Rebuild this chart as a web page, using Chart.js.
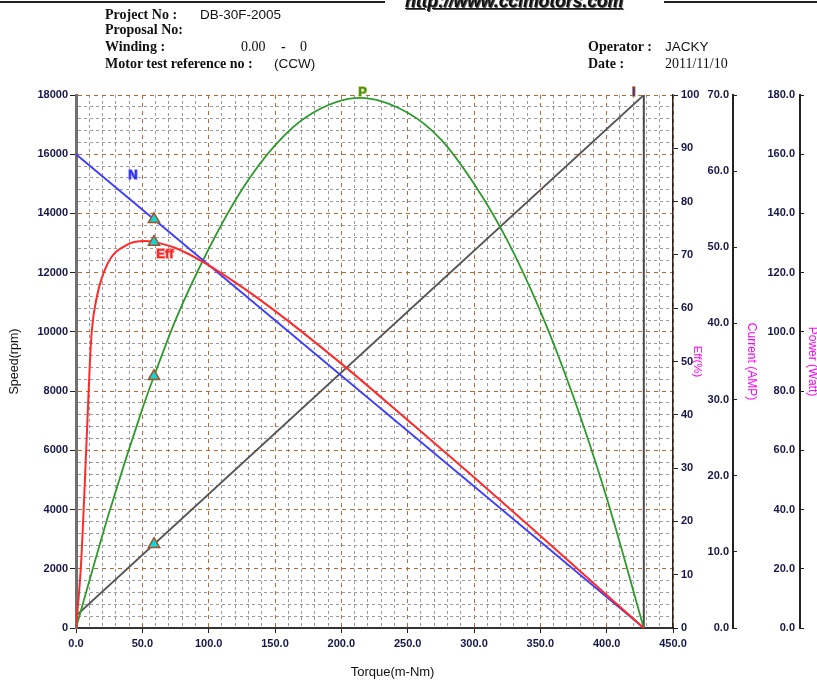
<!DOCTYPE html>
<html>
<head>
<meta charset="utf-8">
<script src="https://cdn.jsdelivr.net/npm/chart.js@4.4.1/dist/chart.umd.min.js"></script>
<style>
  body { margin: 0; background: #fff; }
  #wrap { position: relative; width: 817px; height: 683px; overflow: hidden; }
  #chart { position: absolute; left: 0; top: 0; }
  .hd { position: absolute; font: bold 14px "Liberation Serif", "Times New Roman", serif; color: #111; white-space: nowrap; }
  .sv { font-family: "Liberation Sans", Arial, sans-serif; font-weight: normal; font-size: 13.5px; }
  .rule { position: absolute; top: 1px; height: 2px; background: #222; }
  #url { position: absolute; left: 405px; top: -9px; font: italic bold 17.5px "Liberation Sans", Arial, sans-serif;
         color: #111; text-decoration: underline; text-shadow: 1px 1px 0 #555; }
</style>
</head>
<body>
<div id="wrap">
  <canvas id="chart" width="817" height="683"></canvas>
  <div class="rule" style="left:0;width:385px"></div>
  <div class="rule" style="left:664px;width:153px"></div>
  <div id="url">http://www.ccimotors.com</div>
  <div class="hd" style="left:105px;top:7px">Project No :</div>
  <div class="hd sv" style="left:200px;top:7px">DB-30F-2005</div>
  <div class="hd" style="left:105px;top:22px">Proposal No:</div>
  <div class="hd" style="left:105px;top:39px">Winding :</div>
  <div class="hd" style="left:241px;top:39px;font-weight:normal">0.00</div>
  <div class="hd" style="left:281px;top:39px">-</div>
  <div class="hd" style="left:300px;top:39px;font-weight:normal">0</div>
  <div class="hd" style="left:105px;top:56px">Motor test reference no :</div>
  <div class="hd sv" style="left:274px;top:56px">(CCW)</div>
  <div class="hd" style="left:588px;top:39px">Operator :</div>
  <div class="hd sv" style="left:665px;top:39px">JACKY</div>
  <div class="hd" style="left:588px;top:56px">Date :</div>
  <div class="hd" style="left:665px;top:56px;font-weight:normal">2011/11/10</div>
</div>
<script>
// values
const speedTorque = [0, 428];
const speedRpm = [16000, 0];
const currentTorque = [0, 428];
const currentAmp = [1.6, 70];
const effTorque = [0, 3.8, 8.3, 10.5, 12, 15.6, 23.9, 37.7, 52, 58.8, 75, 95.7, 125, 150, 200, 250, 300, 350, 400, 428];
const effPct = [0, 12, 37, 50, 56, 62, 68.4, 71.8, 72.6, 72.4, 71.3, 68.7, 64, 59.5, 49.6, 39, 28.3, 17.3, 6.2, 0];
const powerTorque = [0, 25, 50, 58.8, 75, 100, 125, 150, 175, 214, 250, 275, 300, 325, 350, 375, 400, 428];
const powerWatt = [0, 39, 74, 85, 104, 128, 148, 163, 173, 179, 174, 165, 150, 131, 107, 78, 44, 0];
const stallTorque = [428, 428];
const stallRpm = [0, 18000];
const markTorque = [58.8];
const markSpeed = [13800];
const markEff = [72.4];
const markPower = [85];
const markCurrent = [11];

const pts = (xs, ys) => xs.map((x, i) => ({ x, y: ys[i] }));

const tickFont = { family: 'Liberation Sans, Arial, sans-serif', size: 11, weight: 'bold' };
const titleFont = size => ({ family: 'Liberation Sans, Arial, sans-serif', size });
const tickColor = '#16164a';
const major = '#c8642d', minor = '#9a9a9a';

const markerStyle = {
  showLine: false, pointStyle: 'triangle', pointRadius: 6.5,
  pointBackgroundColor: '#12d6d6', pointBorderColor: '#a4522a', pointBorderWidth: 1.5
};

const curveLabels = [
  { text: 'N', x: 43, y: 15280, color: '#2a2aff', stroke: '#8a8aff' },
  { text: 'Eff', x: 67, y: 12630, color: '#ff2020', stroke: '#ff9090' },
  { text: 'P', x: 216, y: 18080, color: '#2a9a2a', stroke: '#e0c040' },
  { text: 'I', x: 420.5, y: 18080, color: '#2a3aa0', stroke: '#e08030' }
];

const labelPlugin = {
  id: 'curveLabels',
  afterDatasetsDraw(chart) {
    const { ctx, scales: { x, y } } = chart;
    ctx.save();
    ctx.font = 'bold 13px "Liberation Sans", Arial, sans-serif';
    ctx.textAlign = 'center';
    ctx.textBaseline = 'middle';
    curveLabels.forEach(l => {
      const px = x.getPixelForValue(l.x), py = y.getPixelForValue(l.y);
      ctx.lineWidth = 1.5;
      ctx.strokeStyle = l.stroke;
      ctx.strokeText(l.text, px, py);
      ctx.fillStyle = l.color;
      ctx.fillText(l.text, px, py);
    });
    ctx.restore();
  }
};

const isMajor = (c, step) => c.tick && Math.round(c.tick.value) % step === 0;

new Chart(document.getElementById('chart'), {
  type: 'line',
  data: {
    datasets: [
      { ...markerStyle, data: pts(markTorque, markSpeed), yAxisID: 'y' },
      { ...markerStyle, data: pts(markTorque, markEff), yAxisID: 'eff' },
      { ...markerStyle, data: pts(markTorque, markPower), yAxisID: 'pow' },
      { ...markerStyle, data: pts(markTorque, markCurrent), yAxisID: 'cur' },
      { data: pts(effTorque, effPct), yAxisID: 'eff', borderColor: '#ff2a2a', borderWidth: 2, pointRadius: 0, cubicInterpolationMode: 'monotone' },
      { data: pts(speedTorque, speedRpm), yAxisID: 'y', borderColor: '#3c3cff', borderWidth: 1.8, pointRadius: 0 },
      { data: pts(powerTorque, powerWatt), yAxisID: 'pow', borderColor: '#2e9a2e', borderWidth: 1.8, pointRadius: 0, cubicInterpolationMode: 'monotone' },
      { data: pts(currentTorque, currentAmp), yAxisID: 'cur', borderColor: '#555', borderWidth: 1.8, pointRadius: 0 },
      { data: pts(stallTorque, stallRpm), yAxisID: 'y', borderColor: '#4a4a4a', borderWidth: 2, pointRadius: 0 }
    ]
  },
  options: {
    responsive: false,
    animation: false,
    layout: { padding: { top: 95, left: 0, right: 0, bottom: 0 } },
    plugins: { legend: { display: false }, tooltip: { enabled: false } },
    scales: {
      x: {
        type: 'linear', position: 'bottom', min: 0, max: 450,
        afterFit: s => { s.height = 55; },
        ticks: {
          stepSize: 10, maxTicksLimit: 100, autoSkip: false, maxRotation: 0, padding: 4,
          color: tickColor, font: tickFont,
          callback: v => v % 50 === 0 ? v.toFixed(1) : ''
        },
        grid: {
          color: c => isMajor(c, 50) ? major : minor,
          tickLength: 5,
          tickColor: c => isMajor(c, 50) ? '#222' : 'rgba(0,0,0,0)'
        },
        border: { color: '#333', width: 2, dash: c => isMajor(c, 50) ? [4, 4] : [3, 3] },
        title: { display: true, text: '          Torque(m-Nm)', color: '#111', font: titleFont(13), padding: { top: 0, bottom: 3 } }
      },
      y: {
        position: 'left', min: 0, max: 18000,
        afterFit: s => { s.width = 76; },
        ticks: {
          stepSize: 400, maxTicksLimit: 100, autoSkip: false, padding: 2,
          color: tickColor, font: tickFont,
          callback: v => v % 2000 === 0 ? String(v) : ''
        },
        grid: {
          color: c => isMajor(c, 2000) ? major : minor,
          tickLength: 6,
          tickColor: c => isMajor(c, 2000) ? '#222' : 'rgba(0,0,0,0)'
        },
        border: { color: '#707070', width: 3, dash: c => isMajor(c, 2000) ? [4, 4] : [3, 3] },
        title: { display: true, text: 'Speed(rpm)', color: '#111', font: titleFont(12.5), padding: { top: 7, bottom: 0 } }
      },
      eff: {
        position: 'right', weight: 0, min: 0, max: 100,
        afterFit: s => { s.width = 60; },
        ticks: { stepSize: 10, padding: 3, color: tickColor, font: tickFont },
        grid: { drawOnChartArea: false, tickLength: 5, tickColor: '#222' },
        border: { color: '#222', width: 1.5 },
        title: { display: true, text: 'Eff(%)', color: '#ff00ff', font: titleFont(11.5), padding: { top: 29, bottom: 0 } }
      },
      cur: {
        position: 'right', weight: 1, min: 0, max: 70,
        afterFit: s => { s.width = 67; },
        ticks: { stepSize: 10, mirror: true, padding: -4, color: tickColor, font: tickFont, callback: v => v.toFixed(1) },
        grid: { drawOnChartArea: false, tickLength: 4, tickColor: '#222' },
        border: { color: '#222', width: 2 },
        title: { display: true, text: 'Current (AMP)', color: '#ff00ff', font: titleFont(12), padding: { top: 41, bottom: 0 } }
      },
      pow: {
        position: 'right', weight: 2, min: 0, max: 180,
        afterFit: s => { s.width = 17; },
        ticks: { stepSize: 20, mirror: true, padding: -5, color: tickColor, font: tickFont, callback: v => v.toFixed(1) },
        grid: { drawOnChartArea: false, tickLength: 4, tickColor: '#222' },
        border: { color: '#222', width: 2 },
        title: { display: true, text: 'Power (Watt)', color: '#ff00ff', font: titleFont(12), padding: { top: -3, bottom: 0 } }
      }
    }
  },
  plugins: [labelPlugin]
});
</script>
</body>
</html>
